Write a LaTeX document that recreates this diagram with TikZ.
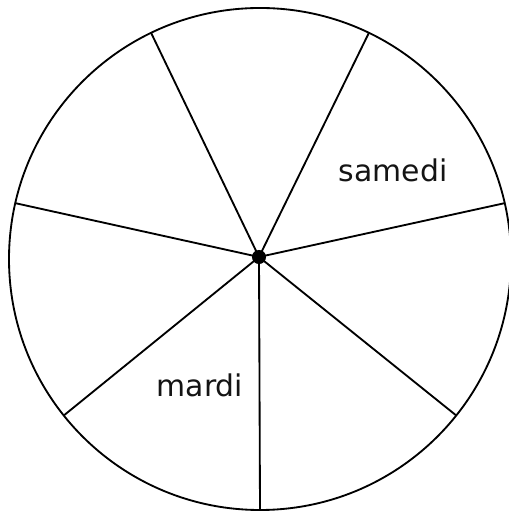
\documentclass[tikz,border=0pt]{standalone}
\usepackage{fontspec}
\setsansfont{DejaVu Sans}
\usetikzlibrary{positioning}

\begin{document}
\begin{tikzpicture}[x=0.02cm, y=0.02cm, line width=1.05pt,
                    day/.style={font=\sffamily\fontsize{17}{17}\selectfont,
                                text=black!92, anchor=base}]
    \useasboundingbox (0,0) rectangle (509,513);
    \coordinate (c) at (260,254);
    \draw (c) circle[radius=251];
    \node[circle, fill, inner sep=0pt, minimum size=8] (hub) at (259,256) {};
    \foreach \k in {0,...,6}
      \path (c) ++(270+\k*360/7:251) coordinate (r\k);
    \foreach \k in {0,...,6}
      \draw (hub.center) -- (r\k);
    \node[day] (samedi) at (393,331) {samedi};
    \node[day] (mardi) at (200,116) {mardi};
  \end{tikzpicture}
\end{document}
